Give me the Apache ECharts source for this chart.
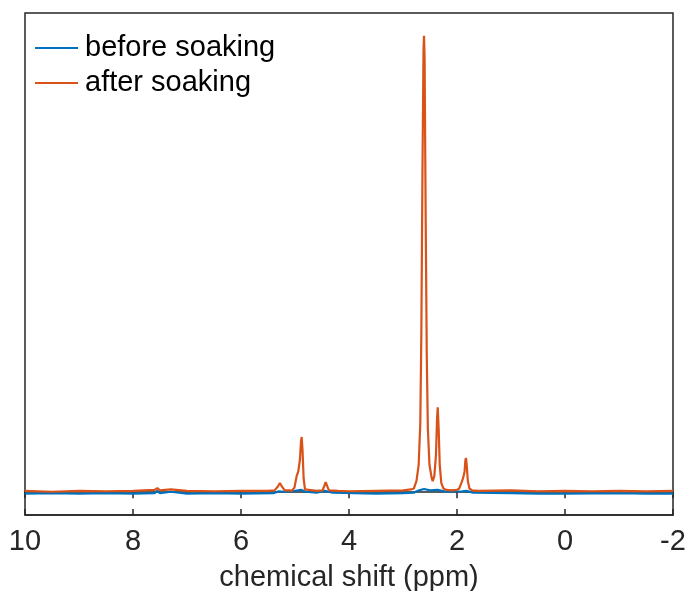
<!DOCTYPE html>
<html>
<head>
<meta charset="utf-8">
<script src="https://cdn.jsdelivr.net/npm/echarts@6/dist/echarts.min.js"></script>
<style>
    html, body {margin: 0; padding: 0; background: #FFF;}
    #block1 {width: 689px; height: 591px;}
</style>
</head>
<body>
<div id="block1"></div>
<script>
// 谱线数据 [ppm, intensity]
const seriesNames = ['before soaking', 'after soaking'];
const xTicks = [10, 8, 6, 4, 2, 0, -2];

const beforeData = [
    [10, -0.3], [9.5, -0.2], [9, -0.3], [8.5, -0.2], [8, -0.3], [7.6, -0.2],
    [7.55, 0.3], [7.5, -0.2], [7.3, 0.1], [7, -0.3], [6.5, -0.2], [6, -0.3],
    [5.4, -0.2], [5.3, 0.2], [5.2, 0.1], [5.0, 0.3], [4.88, 0.5], [4.8, 0.1],
    [4.6, -0.1], [4.45, 0.3], [4.3, -0.1], [3.5, -0.3], [3.0, -0.2], [2.8, -0.1],
    [2.7, 0.4], [2.61, 0.7], [2.5, 0.4], [2.36, 0.5], [2.2, 0.1], [1.9, 0.2],
    [1.83, 0.3], [1.7, -0.1], [1.0, -0.2], [0.5, -0.3], [0, -0.3], [-1, -0.2],
    [-1.5, -0.3], [-2, -0.3]
];

const afterData = [
    [10, 0.3], [9.5, 0.1], [9, 0.3], [8.5, 0.2], [8, 0.3], [7.6, 0.5],
    [7.55, 0.9], [7.5, 0.4], [7.3, 0.6], [7, 0.3], [6.5, 0.2], [6, 0.3],
    [5.5, 0.3], [5.38, 0.4], [5.32, 1.2], [5.28, 2.0], [5.24, 1.2], [5.19, 0.4],
    [5.1, 0.4], [5.06, 0.3], [5.01, 1.0], [4.97, 3.5], [4.94, 4.5], [4.91, 7],
    [4.89, 11], [4.876, 12.1], [4.86, 9], [4.84, 3], [4.815, 0.6], [4.78, 0.3],
    [4.6, 0.3], [4.49, 0.4], [4.46, 1.3], [4.432, 2.2], [4.40, 1.2], [4.37, 0.4],
    [4.2, 0.3], [4.0, 0.2], [3.5, 0.3], [3.0, 0.4], [2.85, 0.6], [2.80, 0.8],
    [2.75, 2.5], [2.71, 6], [2.68, 15], [2.66, 35], [2.64, 70], [2.62, 97],
    [2.611, 100], [2.60, 95], [2.58, 60], [2.56, 30], [2.54, 14], [2.51, 6],
    [2.47, 3.2], [2.45, 2.4], [2.42, 3.5], [2.39, 8], [2.37, 16], [2.357, 18.6],
    [2.34, 14], [2.32, 6], [2.29, 2], [2.25, 0.8], [2.2, 0.5], [2.1, 0.4],
    [2.0, 0.5], [1.96, 0.8], [1.92, 2.0], [1.889, 3.0], [1.86, 4.5], [1.845, 7],
    [1.833, 7.5], [1.82, 6], [1.80, 2.5], [1.77, 0.8], [1.72, 0.4], [1.6, 0.3],
    [1.0, 0.4], [0.5, 0.2], [0, 0.3], [-0.5, 0.2], [-1.0, 0.3], [-1.5, 0.2],
    [-2, 0.3]
];

const block1 = document.getElementById('block1');
const chart1 = echarts.init(block1);

const fontFamily = '"Liberation Sans", Arial, Helvetica, sans-serif';
const axisColor = '#262626';

let option1 = {
    animation: false,
    color: ['#0072BD', '#D95319'],
    textStyle: {fontFamily: fontFamily, color: axisColor},
    grid: {
        left: 25, right: 16, top: 13, bottom: 76,
        outerBoundsMode: 'none',
        show: true,
        borderColor: axisColor,
        borderWidth: 1.5
    },
    legend: {
        orient: 'vertical',
        left: 35, top: 33,
        padding: 0,
        icon: 'rect',
        itemWidth: 43,
        itemHeight: 2,
        itemGap: 5,
        data: seriesNames,
        textStyle: {fontSize: 29, color: '#000', lineHeight: 30, padding: [0, 0, 0, 2]}
    },
    xAxis: [{
        type: 'value',
        inverse: true,
        min: -2, max: 10, interval: 2,
        axisLine: {show: true, onZero: false, lineStyle: {color: axisColor, width: 1.5}},
        axisTick: {show: true, inside: true, length: 6, lineStyle: {color: axisColor, width: 1.5}},
        splitLine: {show: false},
        axisLabel: {
            fontSize: 29, color: axisColor, margin: 12,
            formatter: function (v) { return xTicks.indexOf(v) >= 0 ? String(v) : ''; }
        },
        name: 'chemical shift (ppm)',
        nameLocation: 'middle',
        nameGap: 48,
        nameTextStyle: {fontSize: 29, color: axisColor}
    }, {
        type: 'value',
        position: 'top',
        inverse: true,
        min: -2, max: 10, interval: 2,
        axisLine: {show: true, lineStyle: {color: axisColor, width: 1.5}},
        axisTick: {show: true, inside: true, length: 6, lineStyle: {color: axisColor, width: 1.5}},
        axisLabel: {show: false},
        splitLine: {show: false}
    }],
    yAxis: {
        type: 'value',
        min: -5, max: 105,
        axisLine: {show: false},
        axisTick: {show: false},
        axisLabel: {show: false},
        splitLine: {show: false}
    },
    series: [{
        name: seriesNames[0],
        type: 'line',
        symbol: 'none',
        data: beforeData,
        lineStyle: {width: 2.2}
    }, {
        name: seriesNames[1],
        type: 'line',
        symbol: 'none',
        data: afterData,
        lineStyle: {width: 2.2}
    }]
};

chart1.setOption(option1);
</script>
</body>
</html>
